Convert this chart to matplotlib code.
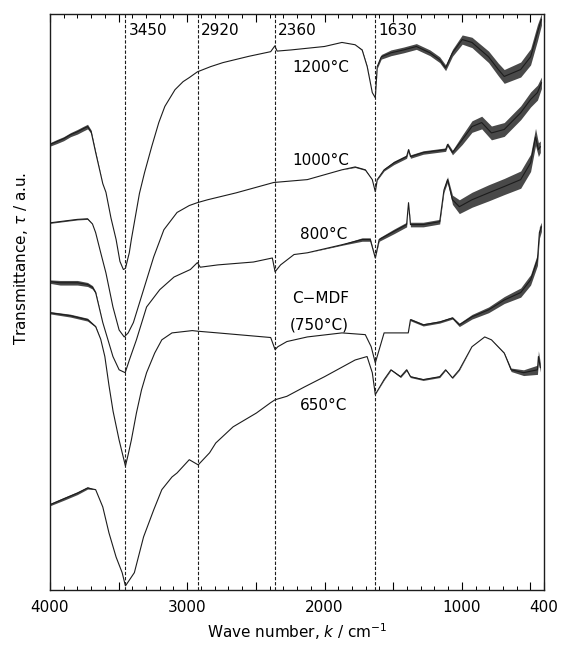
import numpy as np
import matplotlib
matplotlib.use("Agg")
import matplotlib.pyplot as plt

plt.rcParams['font.family'] = ['DejaVu Sans']
plt.rcParams['mathtext.fontset'] = 'dejavusans'

# --- spectra (wave number in cm-1, transmittance in a.u.)
# n_* = half width of the noisy band around the trace
wn_1200 = [4000, 3950, 3900, 3850, 3800, 3760, 3726, 3700, 3667, 3615,
           3592, 3555, 3518, 3490, 3465, 3450, 3422, 3407, 3348, 3311,
           3259, 3207, 3163, 3089, 3030, 2985, 2926, 2830, 2740, 2550,
           2392, 2362, 2345, 2244, 2000, 1873, 1777, 1726, 1689, 1652,
           1630, 1616, 1587, 1516, 1424, 1331, 1232, 1161, 1118, 1068,
           997, 926, 805, 734, 691, 571, 499, 449, 420]
t_1200 = [77.3, 77.8, 78.3, 79.0, 79.5, 80.0, 80.4, 79.5, 75.9, 70.5,
          69.0, 64.5, 60.8, 57.0, 55.6, 55.8, 58.5, 60.8, 68.8, 72.4,
          76.9, 81.1, 83.9, 86.8, 88.2, 88.9, 89.9, 90.8, 91.5, 92.6,
          93.4, 94.4, 93.5, 93.7, 94.3, 95.0, 94.6, 93.7, 90.8, 86.3,
          85.4, 90.8, 92.5, 93.2, 93.7, 94.3, 93.2, 92.0, 90.6, 93.2,
          95.5, 95.0, 92.5, 90.3, 89.1, 90.3, 92.5, 96.7, 99.0]
n_1200 = [0.3, 0.35, 0.35, 0.35, 0.4, 0.4, 0.4, 0.3, 0.2, 0,
          0, 0, 0, 0, 0, 0, 0, 0, 0, 0,
          0, 0, 0, 0, 0, 0, 0, 0, 0, 0,
          0, 0, 0, 0, 0, 0, 0, 0.1, 0.1, 0,
          0, 0.3, 0.4, 0.5, 0.5, 0.5, 0.5, 0.5, 0.5, 0.6,
          0.8, 0.9, 1.0, 1.1, 1.2, 1.3, 1.4, 1.4, 1.0]

wn_1000 = [4000, 3900, 3800, 3726, 3690, 3667, 3630, 3592, 3541, 3496,
           3459, 3430, 3392, 3318, 3244, 3170, 3074, 2985, 2926, 2852,
           2644, 2370, 2125, 1873, 1777, 1703, 1652, 1630, 1616, 1566,
           1495, 1402, 1388, 1374, 1281, 1118, 1104, 1068, 997, 926,
           855, 784, 691, 571, 499, 449, 420]
t_1000 = [63.7, 64.0, 64.3, 64.4, 63.5, 62.0, 58.5, 55.0, 49.1, 45.1,
          43.9, 44.6, 46.4, 52.1, 57.8, 62.5, 65.5, 66.7, 67.2, 67.7,
          68.9, 70.7, 71.2, 72.9, 73.4, 72.9, 71.2, 69.1, 71.2, 72.9,
          74.1, 75.2, 76.4, 75.2, 75.9, 76.4, 77.3, 75.9, 78.1, 80.4,
          81.1, 79.3, 79.9, 82.8, 85.1, 86.3, 88.0]
n_1000 = [0.1, 0.1, 0.1, 0.1, 0, 0, 0, 0, 0, 0,
          0, 0, 0, 0, 0, 0, 0, 0, 0, 0,
          0, 0, 0, 0, 0.1, 0.1, 0, 0, 0.1, 0.2,
          0.3, 0.3, 0.2, 0.3, 0.3, 0.3, 0.3, 0.4, 0.8, 1.0,
          1.1, 1.2, 1.2, 1.2, 1.3, 1.3, 1.0]

wn_800 = [4000, 3926, 3800, 3726, 3690, 3667, 3615, 3541, 3496, 3452,
          3420, 3370, 3296, 3200, 3096, 2977, 2926, 2905, 2777, 2518,
          2380, 2360, 2320, 2222, 2125, 1873, 1726, 1667, 1630, 1602,
          1495, 1402, 1388, 1374, 1281, 1161, 1130, 1104, 1068, 1018,
          926, 805, 691, 571, 499, 463, 442, 428]
t_800 = [53.5, 53.3, 53.3, 53.0, 52.5, 51.6, 46.4, 40.5, 38.2, 37.7,
         40.0, 43.4, 49.1, 52.1, 54.3, 55.6, 56.8, 56.0, 56.4, 56.9,
         57.6, 55.2, 56.4, 58.2, 58.5, 59.9, 60.8, 60.8, 57.6, 60.8,
         62.2, 63.4, 67.2, 63.4, 63.4, 63.9, 69.4, 71.2, 67.7, 66.5,
         67.7, 68.9, 70.0, 71.2, 74.1, 78.6, 76.4, 76.9]
n_800 = [0.3, 0.4, 0.4, 0.35, 0.3, 0.2, 0, 0, 0, 0,
         0, 0, 0, 0, 0, 0, 0, 0, 0, 0,
         0, 0, 0, 0, 0, 0.1, 0.3, 0.3, 0, 0.3,
         0.4, 0.4, 0, 0.4, 0.4, 0.4, 0.4, 0.5, 0.8, 1.2,
         1.3, 1.4, 1.4, 1.5, 1.5, 1.5, 1.2, 1.0]

wn_cmdf = [4000, 3852, 3726, 3667, 3630, 3600, 3570, 3540, 3496, 3450,
           3430, 3407, 3370, 3333, 3296, 3237, 3185, 3111, 2963, 2926,
           2777, 2392, 2360, 2340, 2274, 2125, 1873, 1703, 1660, 1630,
           1566, 1424, 1390, 1374, 1281, 1161, 1068, 1018, 926, 805,
           691, 571, 499, 449, 435, 420]
t_cmdf = [48.1, 47.6, 46.9, 45.7, 43.5, 40.5, 35.5, 31.0, 26.0, 21.5,
          23.5, 26.0, 30.7, 34.7, 37.7, 41.1, 43.4, 44.6, 45.0, 44.9,
          44.6, 43.8, 41.7, 42.2, 43.1, 43.9, 44.6, 44.3, 42.2, 39.4,
          44.6, 44.6, 44.6, 46.9, 46.0, 46.5, 47.2, 46.0, 47.4, 48.6,
          50.3, 51.6, 53.8, 57.3, 62.0, 63.0]
n_cmdf = [0.2, 0.25, 0.25, 0.1, 0, 0, 0, 0, 0, 0,
          0, 0, 0, 0, 0, 0, 0, 0, 0, 0,
          0, 0, 0, 0, 0, 0, 0, 0, 0, 0,
          0, 0, 0, 0.2, 0.2, 0.2, 0.2, 0.3, 0.4, 0.5,
          0.6, 0.8, 0.9, 1.0, 1.0, 0.8]

wn_650 = [4000, 3900, 3800, 3726, 3667, 3615, 3570, 3518, 3474, 3450,
          3385, 3318, 3244, 3185, 3111, 3074, 2985, 2920, 2837, 2792,
          2666, 2496, 2392, 2360, 2274, 2148, 2000, 1777, 1690, 1652,
          1630, 1566, 1516, 1446, 1402, 1374, 1281, 1161, 1118, 1068,
          1018, 926, 833, 784, 691, 641, 550, 449, 442, 428]
t_650 = [14.8, 15.8, 16.8, 17.7, 17.4, 14.4, 9.9, 5.7, 3.0, 0.7,
         3.0, 9.2, 13.9, 17.4, 19.6, 20.3, 22.6, 21.7, 23.8, 25.5,
         28.3, 30.7, 32.5, 33.0, 33.6, 35.2, 37.0, 39.9, 40.5, 37.7,
         33.9, 36.5, 38.2, 37.0, 38.2, 37.0, 36.5, 37.0, 38.2, 36.8,
         38.2, 42.2, 43.9, 43.4, 41.1, 38.2, 37.7, 38.2, 40.5, 38.6]
n_650 = [0.2, 0.25, 0.25, 0.2, 0, 0, 0, 0, 0, 0,
         0, 0, 0, 0, 0, 0, 0, 0, 0, 0,
         0, 0, 0, 0, 0, 0, 0, 0, 0, 0,
         0, 0.1, 0.1, 0.15, 0.15, 0.15, 0.15, 0.15, 0.1, 0.1,
         0.1, 0, 0, 0, 0.1, 0.3, 0.5, 0.8, 1.0, 0.8]

peaks = [3450, 2920, 2360, 1630]
xtick_pos = [4000, 3500, 3000, 2500, 2000, 1500, 1000, 500, 400]
xtick_lab = ['4000', '', '3000', '', '2000', '', '1000', '', '400']

# curve labels: text, wave number, transmittance
labels = [('1200°C', 2030, 90.6), ('1000°C', 2030, 74.6), ('800°C', 2010, 61.6),
          ('C\u2212MDF', 2030, 50.6), ('(750°C)', 2040, 45.9), ('650°C', 2010, 32.0)]

#%% plot
fig = plt.figure(figsize=(5.61, 6.49), dpi=100)
ax = fig.add_axes([0.089, 0.091, 0.881, 0.888])

ink = '#1c1c1c'
for wn, t, n in [(wn_1200, t_1200, n_1200), (wn_1000, t_1000, n_1000), (wn_800, t_800, n_800),
                 (wn_cmdf, t_cmdf, n_cmdf), (wn_650, t_650, n_650)]:
    wn, t, n = np.array(wn), np.array(t), np.array(n)
    ax.plot(wn, t, color=ink, lw=0.8)
    ax.fill_between(wn, t - n, t + n, color=ink, lw=0, alpha=0.8)

for p in peaks:
    ax.axvline(p, color=ink, lw=0.8, ls=(0, (3, 1.6)))
    ax.text(p - 22, 97.0, str(p), fontsize=11, ha='left', va='center')

for txt, k, t in labels:
    ax.text(k, t, txt, fontsize=11, ha='center', va='center')

ax.set_xlim(4000, 400)
ax.set_ylim(0, 100)
ax.set_xticks(xtick_pos)
ax.set_xticklabels(xtick_lab, fontsize=11)
ax.set_xticks(np.arange(3900, 400, -100), minor=True)
ax.tick_params(axis='x', which='both', direction='in', top=True, bottom=True, pad=7)
ax.tick_params(axis='x', which='major', length=6, width=0.8)
ax.tick_params(axis='x', which='minor', length=3, width=0.7)
ax.set_yticks([])
for s in ax.spines.values():
    s.set_linewidth(1.0)
    s.set_color(ink)

ax.set_xlabel('Wave number, $k$ / cm$^{-1}$', fontsize=11, labelpad=5)
ax.set_ylabel('Transmittance, $\\tau$ / a.u.', fontsize=11)
ax.yaxis.set_label_coords(-0.040, 0.576)

fig.savefig('out.png', dpi=100)
